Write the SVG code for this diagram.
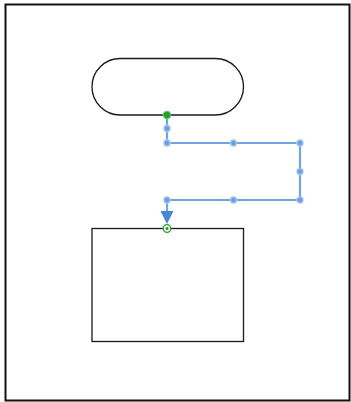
<svg xmlns="http://www.w3.org/2000/svg" width="351" height="402" viewBox="0 0 351 402">
<style>
.shape{fill:#fff;stroke:#1a1a1a;stroke-width:1.3}
.conn{fill:none;stroke:#73a2dc;stroke-width:2.2}
.h{fill:#6b9fe0;stroke:#b5d0f2;stroke-width:2;stroke-opacity:.6}
</style>
<rect x="0" y="0" width="351" height="402" fill="#fff"/>
<rect x="5.5" y="4.5" width="344" height="396" fill="none" stroke="#111" stroke-width="2"/>
<g id="terminator">
<rect class="shape" x="92" y="58.5" width="151.5" height="56.5" rx="28.25" ry="28.25"/>
</g>
<g id="process">
<rect class="shape" x="92" y="228.5" width="151.5" height="113"/>
</g>
<g id="connectors">
<path class="conn" d="M167,115 V143 H300 V200 H167 V213"/>
<path d="M160.5,211 L173.5,211 L167,224 z" fill="#4a86d8"/>
<circle class="h" cx="167" cy="128.5" r="3.2"/>
<circle class="h" cx="167" cy="143" r="3.2"/>
<circle class="h" cx="233.5" cy="143" r="3.2"/>
<circle class="h" cx="300" cy="143" r="3.2"/>
<circle class="h" cx="300" cy="171.5" r="3.2"/>
<circle class="h" cx="300" cy="200" r="3.2"/>
<circle class="h" cx="233.5" cy="200" r="3.2"/>
<circle class="h" cx="167" cy="200" r="3.2"/>
<circle cx="167" cy="115" r="3.8" fill="#22a022" stroke="#6cc56c" stroke-width="1"/>
<circle cx="167" cy="228.5" r="3.8" fill="#fff" stroke="#2a9d2a" stroke-width="1.3"/>
<circle cx="167" cy="228.5" r="1.6" fill="#2a9d2a"/>
</g>
</svg>
